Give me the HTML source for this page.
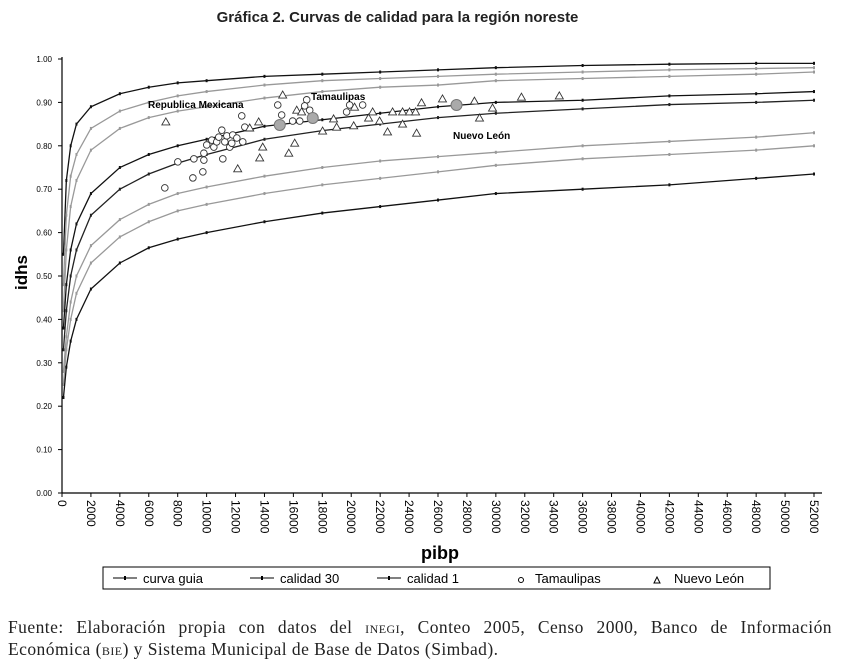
<!DOCTYPE html>
<html><head><meta charset="utf-8"><style>
body{margin:0;background:#fff;width:852px;height:669px;overflow:hidden;font-family:"Liberation Sans",sans-serif}
#t{position:absolute;left:0;top:9px;width:795px;text-align:center;font-weight:bold;font-size:15px;color:#222}
.cap{position:absolute;left:8px;width:824px;font-family:"Liberation Serif",serif;font-size:17.5px;color:#222;letter-spacing:0.45px}
</style></head><body>
<div id="t">Gráfica 2. Curvas de calidad para la región noreste</div>
<svg id="c" width="852" height="600" style="position:absolute;left:0;top:0"></svg>
<div class="cap" style="top:617px;text-align:justify;text-align-last:justify">Fuente: Elaboración propia con datos del <span style="font-variant:small-caps">inegi</span>, Conteo 2005, Censo 2000, Banco de Información</div>
<div class="cap" style="top:639px">Económica (<span style="font-variant:small-caps">bie</span>) y Sistema Municipal de Base de Datos (Simbad).</div>
<script>
const xSamples=[100,300,600,1000,2000,4000,6000,8000,10000,14000,18000,22000,26000,30000,36000,42000,48000,52000];
const curve1=[.55,.72,.80,.85,.89,.92,.935,.945,.95,.96,.965,.97,.975,.98,.985,.988,.99,.99];
const curve2=[.48,.64,.73,.78,.84,.88,.90,.915,.925,.94,.95,.955,.96,.965,.97,.975,.978,.98];
const curve3=[.42,.56,.66,.72,.79,.84,.865,.88,.89,.91,.925,.935,.94,.95,.955,.96,.965,.97];
const curve4=[.38,.48,.56,.62,.69,.75,.78,.80,.815,.845,.86,.875,.89,.90,.905,.915,.92,.925];
const curve5=[.33,.42,.50,.56,.64,.70,.735,.76,.78,.815,.835,.85,.865,.875,.885,.895,.90,.905];
const curve6=[.28,.36,.44,.50,.57,.63,.665,.69,.705,.73,.75,.765,.775,.785,.80,.81,.82,.83];
const curve7=[.25,.33,.40,.46,.53,.59,.625,.65,.665,.69,.71,.725,.74,.755,.77,.78,.79,.80];
const curve8=[.22,.29,.35,.40,.47,.53,.565,.585,.60,.625,.645,.66,.675,.69,.70,.71,.725,.735];
const tamX=[7110,8010,9050,9120,9740,9810,9810,10010,10360,10500,10700,10840,11050,11120,11260,11400,11600,11740,11810,12090,12500,12430,12640,14920,15190,15950,16440,16920,16780,17130,19680,19890,20790];
const tamY=[.703,.763,.726,.770,.740,.767,.783,.802,.813,.797,.809,.820,.836,.770,.809,.823,.797,.806,.825,.818,.809,.869,.843,.894,.871,.857,.857,.906,.892,.882,.878,.894,.894];
const nlX=[7180,15260,16230,16570,13600,12980,13880,13670,12150,16090,15680,18020,18780,18990,20170,20230,21200,21960,21480,22510,22860,23550,23550,24030,24450,24520,24860,26310,28520,28870,29770,31770,34390];
const nlY=[.855,.917,.882,.878,.855,.841,.797,.772,.747,.806,.783,.834,.862,.843,.846,.889,.864,.857,.878,.832,.878,.850,.878,.878,.878,.829,.899,.908,.903,.864,.887,.912,.915];
const aggX=[15060,17340,27280];
const aggY=[.848,.864,.894];
const yTicks=["0.00","0.10","0.20","0.30","0.40","0.50","0.60","0.70","0.80","0.90","1.00"];
const xTicks=[0,2000,4000,6000,8000,10000,12000,14000,16000,18000,20000,22000,24000,26000,28000,30000,32000,34000,36000,38000,40000,42000,44000,46000,48000,50000,52000];
const X0=62,X1=814,Y0=493,Y1=59;
const sx=v=>X0+v/52000*(X1-X0), sy=v=>Y0-v*(Y0-Y1);
const svg=document.getElementById('c'),NS='http://www.w3.org/2000/svg';
function mk(t,a,p){const e=document.createElementNS(NS,t);for(const k in a)e.setAttribute(k,a[k]);(p||svg).appendChild(e);return e;}
let e=mk('line',{x1:X0,y1:Y1-2,x2:X0,y2:Y0,stroke:'#000','stroke-width':1.2});


e=mk('line',{x1:X0,y1:Y0,x2:X1+8,y2:Y0,stroke:'#000','stroke-width':1.2});


yTicks.forEach((t,i)=>{const y=sy(i/10);
 mk('line',{x1:X0-4,y1:y,x2:X0,y2:y,stroke:'#000'});
 const tx=mk('text',{x:X0-10,y:y+3,'font-size':8,'text-anchor':'end','font-family':'Liberation Sans, sans-serif'});tx.textContent=t;
 
 });
xTicks.forEach(v=>{const x=sx(v);
 mk('line',{x1:x,y1:Y0,x2:x,y2:Y0+4,stroke:'#000'});
 const tx=mk('text',{x:0,y:0,'font-size':12,transform:`translate(${x-4},${Y0+7}) rotate(90)`,'font-family':'Liberation Sans, sans-serif'});tx.textContent=v;
 
 });
let lt=mk('text',{x:0,y:0,'font-size':17,'font-weight':'bold',transform:'translate(27,290) rotate(-90)','font-family':'Liberation Sans, sans-serif'});lt.textContent='idhs';


lt=mk('text',{x:440,y:559,'font-size':18,'font-weight':'bold','text-anchor':'middle','font-family':'Liberation Sans, sans-serif'});lt.textContent='pibp';


const curves=[[curve1,'#111'],[curve2,'#999'],[curve3,'#999'],[curve4,'#111'],[curve5,'#222'],[curve6,'#999'],[curve7,'#999'],[curve8,'#111']];
curves.forEach((c,ci)=>{const pts=xSamples.map((x,i)=>sx(x)+','+sy(c[0][i])).join(' ');
 const p=mk('polyline',{points:pts,fill:'none',stroke:c[1],'stroke-width':1.3});
 
 
 xSamples.forEach((x,i)=>{const m=mk('rect',{x:sx(x)-1,y:sy(c[0][i])-1.5,width:2,height:3,fill:c[1]});
 
 });});
tamX.forEach((x,i)=>{const m=mk('circle',{cx:sx(x),cy:sy(tamY[i]),r:3.3,fill:'#fff',stroke:'#333','stroke-width':0.9});
 
 });
nlX.forEach((x,i)=>{const cx=sx(x),cy=sy(nlY[i]);const m=mk('polygon',{points:`${cx},${cy-4} ${cx-4},${cy+3} ${cx+4},${cy+3}`,fill:'#fff',stroke:'#333','stroke-width':0.9});
 
 });
aggX.forEach((x,i)=>{const m=mk('circle',{cx:sx(x),cy:sy(aggY[i]),r:5.5,fill:'#aaa',stroke:'#777','stroke-width':1});
 
 });
[['Republica Mexicana',148,108],['Tamaulipas',311,100],['Nuevo León',453,139]].forEach(l=>{const t=mk('text',{x:l[1],y:l[2],'font-size':10,'font-weight':'bold','font-family':'Liberation Sans, sans-serif'});t.textContent=l[0];
 
 });
const lg=mk('g',{});


mk('rect',{x:103,y:567,width:667,height:22,fill:'#fff',stroke:'#000'},lg);
[['curva guia',113,'line'],['calidad 30',250,'line'],['calidad 1',377,'line'],['Tamaulipas',518,'circ'],['Nuevo León',654,'tri']].forEach(l=>{
 const g=mk('g',{},lg);
 
 
 let tx=l[1]+30;
 if(l[2]=='line'){mk('line',{x1:l[1],y1:578,x2:l[1]+24,y2:578,stroke:'#000'},g);mk('rect',{x:l[1]+11,y:576,width:2,height:4,fill:'#000'},g);}
 else if(l[2]=='circ'){mk('circle',{cx:l[1]+3,cy:580,r:2.5,fill:'none',stroke:'#000'},g);tx=l[1]+17;}
 else{mk('polygon',{points:`${l[1]+3},577 ${l[1]},583 ${l[1]+6},583`,fill:'none',stroke:'#000'},g);tx=l[1]+20;}
 const t=mk('text',{x:tx,y:583,'font-size':13,'font-family':'Liberation Sans, sans-serif'},g);t.textContent=l[0];});
</script>
</body></html>
